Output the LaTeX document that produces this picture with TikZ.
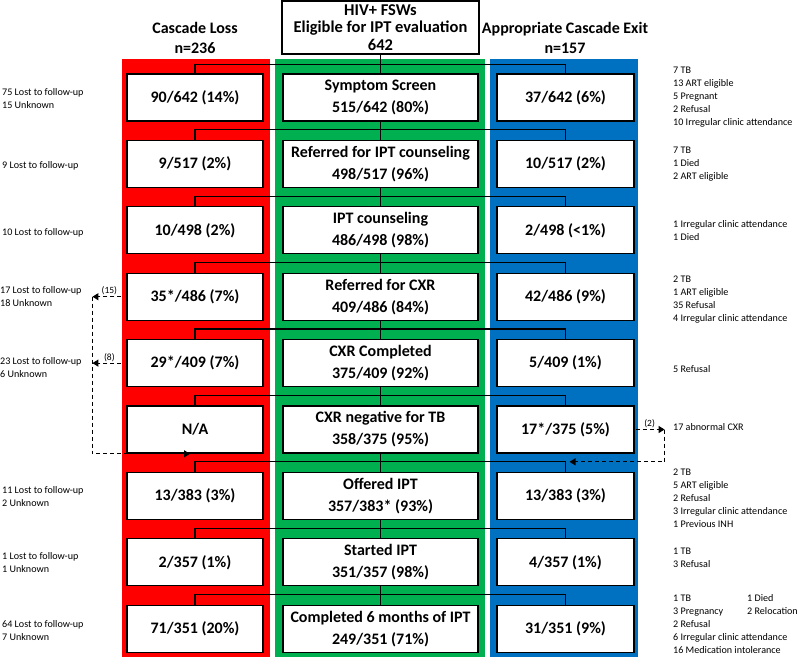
\documentclass[tikz,border=0pt]{standalone}
\usepackage{fontspec}
\setmainfont{Carlito}
\usetikzlibrary{arrows.meta,calc}

\definecolor{lossred}{RGB}{255,0,0}
\definecolor{stepgreen}{RGB}{0,176,80}
\definecolor{exitblue}{RGB}{0,112,192}

\begin{document}
\begin{tikzpicture}[
  x=1pt, y=-1pt,
  stage/.style={draw, line width=1.2pt, fill=white,
                minimum width=195pt, minimum height=47pt,
                align=center, inner sep=1pt,
                font=\fontsize{16}{22}\selectfont\bfseries},
  lossbox/.style={stage, minimum width=136pt},
  exitbox/.style={stage, minimum width=137pt},
  head/.style={align=center, font=\fontsize{16}{20}\selectfont\bfseries},
  note/.style={align=left, anchor=west, inner sep=0pt,
               font=\fontsize{10.1}{13}\selectfont},
  splitlbl/.style={inner sep=1pt, font=\fontsize{9.5}{11}\selectfont},
  conn/.style={line width=1.2pt},
  backarr/.style={dash pattern=on 4pt off 3pt, line width=1.2pt,
                  -{Triangle[length=6pt,width=7pt]}},
]
\useasboundingbox (0,0) rectangle (800,657);

%% Column panels
\fill[lossred]   (122,59) rectangle (270,657);
\fill[stepgreen] (275,59) rectangle (485,657);
\fill[exitblue]  (490,59) rectangle (638,657);

%% Headings
\node[stage, minimum width=197pt, minimum height=53pt,
      font=\fontsize{16.5}{17.5}\selectfont\bfseries] (top) at (380.5,27.5)
  {HIV+ FSWs\\Eligible for IPT evaluation\\642};
\node[head] (losshead) at (195,38) {Cascade Loss\\n=236};
\node[head] (exithead) at (565,37.5) {Appropriate Cascade Exit\\n=157};

%% Cascade steps
\node[stage] (g1) at (380.5,97.5) {Symptom Screen\\515/642 (80\%)};
\node[stage] (g2) at (380.5,163.9) {Referred for IPT counseling\\498/517 (96\%)};
\node[stage] (g3) at (380.5,230.3) {IPT counseling\\486/498 (98\%)};
\node[stage] (g4) at (380.5,296.7) {Referred for CXR\\409/486 (84\%)};
\node[stage] (g5) at (380.5,363.1) {CXR Completed\\375/409 (92\%)};
\node[stage] (g6) at (380.5,429.5) {CXR negative for TB\\358/375 (95\%)};
\node[stage] (g7) at (380.5,495.9) {Offered IPT\\357/383* (93\%)};
\node[stage] (g8) at (380.5,562.3) {Started IPT\\351/357 (98\%)};
\node[stage] (g9) at (380.5,628.7) {Completed 6 months of IPT\\249/351 (71\%)};

%% Losses
\node[lossbox] (r1) at (195,97.5) {90/642 (14\%)};
\node[lossbox] (r2) at (195,163.9) {9/517 (2\%)};
\node[lossbox] (r3) at (195,230.3) {10/498 (2\%)};
\node[lossbox] (r4) at (195,296.7) {35*/486 (7\%)};
\node[lossbox] (r5) at (195,363.1) {29*/409 (7\%)};
\node[lossbox] (r6) at (195,429.5) {N/A};
\node[lossbox] (r7) at (195,495.9) {13/383 (3\%)};
\node[lossbox] (r8) at (195,562.3) {2/357 (1\%)};
\node[lossbox] (r9) at (195,628.7) {71/351 (20\%)};

%% Exits
\node[exitbox] (b1) at (565.5,97.5) {37/642 (6\%)};
\node[exitbox] (b2) at (565.5,163.9) {10/517 (2\%)};
\node[exitbox] (b3) at (565.5,230.3) {2/498 (<1\%)};
\node[exitbox] (b4) at (565.5,296.7) {42/486 (9\%)};
\node[exitbox] (b5) at (565.5,363.1) {5/409 (1\%)};
\node[exitbox] (b6) at (565.5,429.5) {17*/375 (5\%)};
\node[exitbox] (b7) at (565.5,495.9) {13/383 (3\%)};
\node[exitbox] (b8) at (565.5,562.3) {4/357 (1\%)};
\node[exitbox] (b9) at (565.5,628.7) {31/351 (9\%)};

%% Split lines
\coordinate (h1) at ($(g1.north)+(0,9pt)$);
\draw[conn] (top) -- (g1);
\draw[conn] (r1.north) |- (h1) -| (b1.north);

\coordinate (h2) at ($(g2.north)+(0,10pt)$);
\draw[conn] (g1) -- (g2);
\draw[conn] (r2.north) |- (h2) -| (b2.north);

\coordinate (h3) at ($(g3.north)+(0,10pt)$);
\draw[conn] (g2) -- (g3);
\draw[conn] (r3.north) |- (h3) -| (b3.north);

\coordinate (h4) at ($(g4.north)+(0,10pt)$);
\draw[conn] (g3) -- (g4);
\draw[conn] (r4.north) |- (h4) -| (b4.north);

\coordinate (h5) at ($(g5.north)+(0,10pt)$);
\draw[conn] (g4) -- (g5);
\draw[conn] (r5.north) |- (h5) -| (b5.north);

\coordinate (h6) at ($(g6.north)+(0,10pt)$);
\draw[conn] (g5) -- (g6);
\draw[conn] (r6.north) |- (h6) -| (b6.north);

\coordinate (h7) at ($(g7.north)+(0,10pt)$);
\draw[conn] (g6) -- (g7);
\draw[conn] (r7.north) |- (h7) -| (b7.north);

\coordinate (h8) at ($(g8.north)+(0,10pt)$);
\draw[conn] (g7) -- (g8);
\draw[conn] (r8.north) |- (h8) -| (b8.north);

\coordinate (h9) at ($(g9.north)+(0,10pt)$);
\draw[conn] (g8) -- (g9);
\draw[conn] (r9.north) |- (h9) -| (b9.north);

%% Loss reasons
\node[note] (nl1) at (2,99) {75 Lost to follow-up\\15 Unknown};
\node[note] (nl2) at (2,166) {9 Lost to follow-up};
\node[note] (nl3) at (2,233) {10 Lost to follow-up};
\node[note] (nl4) at (0,297) {17 Lost to follow-up\\18 Unknown};
\node[note] (nl5) at (0,368) {23 Lost to follow-up\\6 Unknown};
\node[note] (nl7) at (2,497) {11 Lost to follow-up\\2 Unknown};
\node[note] (nl8) at (2,563) {1 Lost to follow-up\\1 Unknown};
\node[note] (nl9) at (2,631) {64 Lost to follow-up\\7 Unknown};

%% Exit reasons
\node[note] (ne1) at (673,97.5)
  {7 TB\\13 ART eligible\\5 Pregnant\\2 Refusal\\10 Irregular clinic attendance};
\node[note] (ne2) at (673,164) {7 TB\\1 Died\\2 ART eligible};
\node[note] (ne3) at (673,231) {1 Irregular clinic attendance\\1 Died};
\node[note] (ne4) at (673,300)
  {2 TB\\1 ART eligible\\35 Refusal\\4 Irregular clinic attendance};
\node[note] (ne5) at (673,369) {5 Refusal};
\node[note] (ne6) at (673,427) {17 abnormal CXR};
\node[note] (ne7) at (673,498)
  {2 TB\\5 ART eligible\\2 Refusal\\3 Irregular clinic attendance\\1 Previous INH};
\node[note] (ne8) at (673,558) {1 TB\\3 Refusal};
\node[note] (ne9) at (673,624)
  {\makebox[74pt][l]{1 TB}1 Died\\\makebox[74pt][l]{3 Pregnancy}2 Relocation\\2 Refusal\\6 Irregular clinic attendance\\16 Medication intolerance};

%% Returned to cascade
\coordinate (lt) at ($(r4.west)+(-34pt,0)$);
\coordinate (lm) at (r5.west -| lt);
\coordinate (lb) at ($(lt |- h7)+(0,8pt)$);
\coordinate (le) at ($(r7.north |- lb)+(-5pt,0)$);
\draw[backarr, shorten <=5pt] (r4.west) -- (lt) node[splitlbl, midway, above] {(15)};
\draw[backarr, shorten <=5pt] (r5.west) -- (lm) node[splitlbl, midway, above] {(8)};
\draw[backarr] (lt) -- (lb) -- (le);

\coordinate (rt) at ($(b6.east)+(30pt,0)$);
\coordinate (rb) at (rt |- h7);
\coordinate (re) at ($(b7.north |- h7)+(4pt,0)$);
\draw[backarr, shorten <=1pt] (b6.east) -- (rt) node[splitlbl, midway, above] {(2)};
\draw[backarr] (rt) -- (rb) -- (re);

\end{tikzpicture}
\end{document}
